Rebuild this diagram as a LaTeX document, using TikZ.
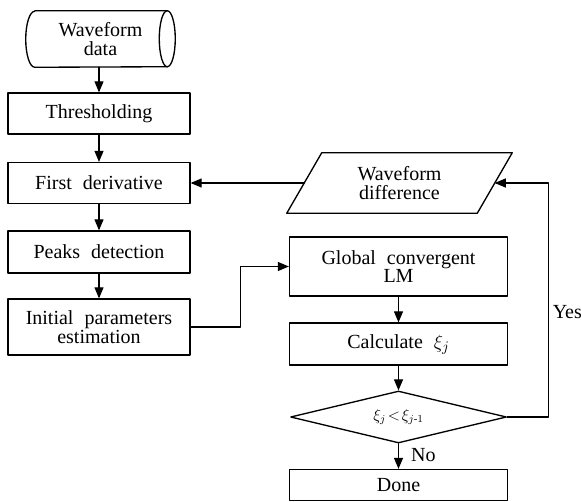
\documentclass[tikz,border=0pt]{standalone}
\usepackage{amsmath}
\usepackage{fontspec}
\setmainfont[WordSpace=2.2]{Liberation Serif}
\usetikzlibrary{arrows,shapes.geometric}

\begin{document}
\begin{tikzpicture}[line cap=round,line join=round,>=triangle 45,x=0.75pt,y=-0.75pt,
		every node/.style={font=\fontsize{15}{14}\selectfont,align=center,inner sep=1pt},
		lbox/.style={draw,line width=1pt,rectangle,minimum width=136.5pt},
		rbox/.style={draw,line width=1pt,rectangle,minimum width=163.5pt},
		flow/.style={->,line width=0.9pt}]
	\useasboundingbox (0,0) rectangle (581,502);
	% left column
	\node[minimum width=111.75pt,minimum height=42pt] (data) at (100.5,39) {Waveform\\data};
	\draw[line width=1pt] ([xshift=6.75pt]data.north west) -- ([xshift=-6pt]data.north east)
		arc[start angle=90,end angle=-90,x radius=6pt,y radius=21pt] -- ([xshift=6.75pt]data.south west)
		arc[start angle=270,end angle=90,x radius=6.75pt,y radius=21pt];
	\draw[line width=1pt] ([xshift=-6pt]data.north east) arc[start angle=90,end angle=270,x radius=6pt,y radius=21pt];
	\node[lbox,minimum height=30.75pt] (thresh) at (99,113.5) {Thresholding};
	\node[lbox,minimum height=30.75pt] (deriv) at (99,183) {First derivative};
	\node[lbox,minimum height=31.5pt] (peaks) at (99,252) {Peaks detection};
	\node[lbox,minimum height=42pt] (init) at (99,327) {Initial parameters\\estimation};
	% right column
	\node[minimum width=142.5pt,minimum height=45pt] (diff) at (399.5,183) {Waveform\\difference};
	\draw[line width=1pt] ([xshift=-13.125pt]diff.south west) -- ([xshift=13.125pt]diff.north west)
		-- ([xshift=13.125pt]diff.north east) -- ([xshift=-13.125pt]diff.south east) -- cycle;
	\node[rbox,minimum height=44.25pt] (lm) at (398.5,266.5) {Global convergent\\LM};
	\node[rbox,minimum height=31.5pt] (calc) at (398.5,344) {Calculate $\xi_j$};
	\node[draw,line width=1pt,diamond,aspect=4,minimum width=162pt,minimum height=39pt,inner sep=0pt] (cmp) at (398.5,417) {\fontsize{12}{12}\selectfont$\xi_j\!<\!\xi_{j\text{-}1}$};
	\node[rbox,minimum height=23.25pt] (done) at (398.5,485) {Done};
	% connectors
	\draw[flow] (data.south -| thresh.north) -- (thresh.north);
	\draw[flow] (thresh) -- (deriv);
	\draw[flow] (deriv) -- (peaks);
	\draw[flow] (peaks) -- (init);
	\draw[flow] (init.east) -- ++(50,0) |- (lm.west);
	\draw[flow] (lm) -- (calc);
	\draw[flow] (calc) -- (cmp);
	\draw[flow] (cmp) -- node[right=8pt,pos=0.45] (no) {No} (done);
	\draw[flow] (cmp.east) -- ++(41,0) |- node[pos=0.225,right=2pt] (yes) {Yes} (diff.east);
	\draw[flow] (diff.west) -- (deriv.east);
\end{tikzpicture}
\end{document}
